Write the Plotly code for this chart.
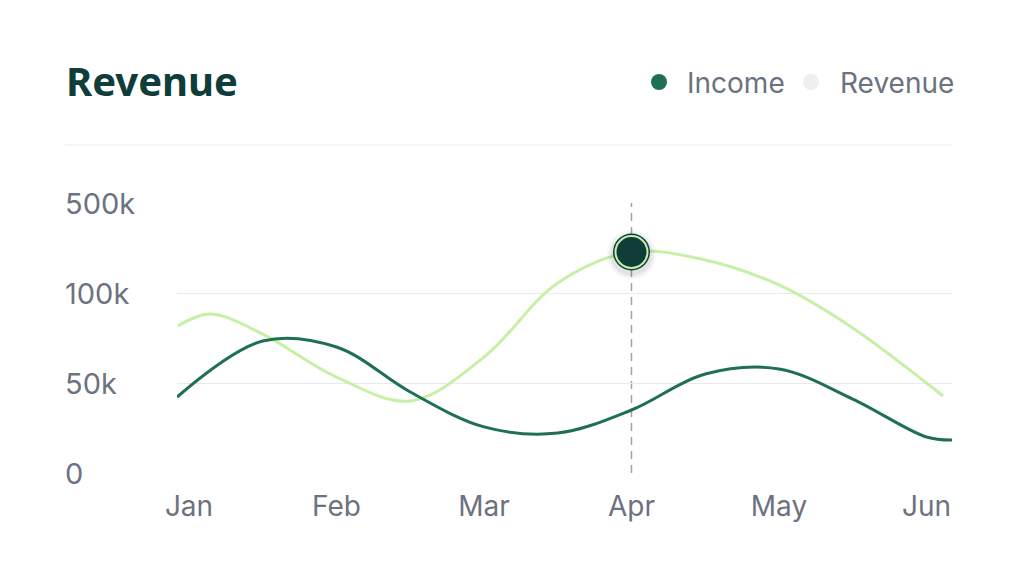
import numpy as np
import plotly.graph_objects as go

# ---- data ----
months = ["Jan", "Feb", "Mar", "Apr", "May", "Jun"]
month_idx = [0, 1, 2, 3, 4, 5]

income_x = [-0.081, 0.5, 1.0, 1.5, 2.0, 2.5, 3.0, 3.5, 4.0, 4.5, 5.0, 5.173]
income_y = [42200, 73300, 70000, 45000, 25600, 22200, 35000, 55000, 57800, 41100, 20000, 18300]

revenue_x = [-0.075, 0.142, 0.5, 1.0, 1.5, 2.0, 2.5, 3.0, 3.5, 4.0, 4.5, 5.0, 5.112]
revenue_y = [81700, 88300, 77200, 53300, 40000, 64400, 144400, 282200, 246700, 135600, 80600, 50000, 42800]

y_tick_values = [0, 50000, 100000, 500000]
y_tick_labels = ["0", "50k", "100k", "500k"]

highlight_month = 3
highlight_value = 282200

# piecewise scale: ticks evenly spaced
def yscale(v):
    return np.interp(v, y_tick_values, [0, 1, 2, 3])

INCOME = "#1f6f54"
REVENUE = "#c6f0a6"
DARK = "#0f3d3a"
GRID = "#e9e9ef"
TXT = "#6b7280"
FONT = "Inter"

fig = go.Figure()

fig.add_trace(go.Scatter(x=revenue_x, y=yscale(revenue_y), mode="lines",
                         line=dict(color=REVENUE, width=3, shape="spline", smoothing=1.0),
                         name="Revenue", hoverinfo="skip"))
fig.add_trace(go.Scatter(x=income_x, y=yscale(income_y), mode="lines",
                         line=dict(color=INCOME, width=3, shape="spline", smoothing=1.0),
                         name="Income", hoverinfo="skip"))

# dashed vertical line
fig.add_shape(type="line", x0=highlight_month, x1=highlight_month, y0=0, y1=3,
              xref="x", yref="y", line=dict(color="#9ca3af", width=1.5, dash="8px,6px"), layer="below")

# marker with shadow
hy = float(yscale(highlight_value))
for s, a in [(50, 0.025), (46, 0.035), (42, 0.05)]:
    fig.add_trace(go.Scatter(x=[highlight_month], y=[hy - 0.03], mode="markers",
                             marker=dict(size=s, color=f"rgba(0,0,0,{a})", line=dict(width=0)),
                             hoverinfo="skip", showlegend=False))
fig.add_trace(go.Scatter(x=[highlight_month], y=[hy], mode="markers",
                         marker=dict(size=37, color=DARK, line=dict(width=0)),
                         hoverinfo="skip", showlegend=False))
fig.add_trace(go.Scatter(x=[highlight_month], y=[hy], mode="markers",
                         marker=dict(size=32, color=DARK, line=dict(width=2, color=REVENUE)),
                         hoverinfo="skip", showlegend=False))

# y tick labels left-aligned
for v, t in zip(y_tick_values, y_tick_labels):
    fig.add_annotation(x=-0.147, xref="paper", y=float(yscale(v)), yref="y", text=t,
                       showarrow=False, xanchor="left", yanchor="middle",
                       font=dict(family=FONT, size=29, color=TXT))

# header separator
fig.add_shape(type="line", xref="paper", yref="paper", x0=-0.1445, x1=1.0,
              y0=1.2148, y1=1.2148, line=dict(color="#ececf0", width=1))

# custom legend
legend_items = [("Income", INCOME, 659, 685), ("Revenue", "#edf0ef", 811, 838)]
for name, col, dotx, textx in legend_items:
    fig.add_shape(type="circle", xref="paper", yref="paper",
                  xsizemode="pixel", ysizemode="pixel",
                  xanchor=(dotx - 177) / 775, yanchor=(473 - 82) / 270,
                  x0=-8, x1=8, y0=-8, y1=8, fillcolor=col, line=dict(width=0))
    fig.add_annotation(x=(textx - 177) / 775, xref="paper", y=(473 - 83) / 270, yref="paper",
                       text=name, showarrow=False, xanchor="left", yanchor="middle",
                       font=dict(family=FONT, size=28, color=TXT))

fig.update_layout(
    width=1020, height=572,
    margin=dict(l=169, r=76, t=195, b=107),
    paper_bgcolor="white", plot_bgcolor="white",
    showlegend=False,
    title=dict(text="<b>Revenue</b>", x=58 / 1020, xanchor="left", xref="container",
               y=1 - 74 / 572, yanchor="middle", yref="container",
               font=dict(family="Noto Sans", size=40, color=DARK)),
    xaxis=dict(range=[-0.0814, 5.173], tickvals=month_idx, ticktext=months,
               showgrid=False, zeroline=False, showline=False, ticks="",
               tickfont=dict(family=FONT, size=28, color=TXT), ticklabelstandoff=14,
               fixedrange=True),
    yaxis=dict(range=[0, 3], tickvals=[0, 1, 2, 3], showticklabels=False,
               showgrid=True, gridcolor=GRID, gridwidth=1, zeroline=False,
               showline=False, ticks="", fixedrange=True),
)

fig.write_html("out.html")
